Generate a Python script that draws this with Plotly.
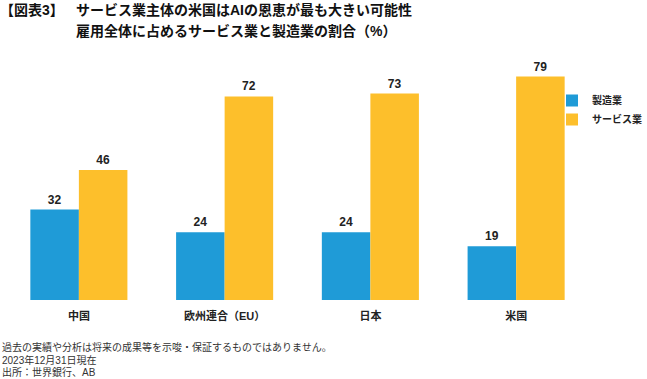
import plotly.graph_objects as go

categories = ["中国", "欧州連合（EU）", "日本", "米国"]
manufacturing = [32, 24, 24, 19]
services = [46, 72, 73, 79]
series_names = ["製造業", "サービス業"]
title_main = "【図表3】"
title_text = "サービス業主体の米国はAIの恩恵が最も大きい可能性"
subtitle_text = "雇用全体に占めるサービス業と製造業の割合（%）"
footnotes = [
    "過去の実績や分析は将来の成果等を示唆・保証するものではありません。",
    "2023年12月31日現在",
    "出所：世界銀行、AB",
]

FONT = "Liberation Sans, Noto Sans CJK JP, sans-serif"
BLUE = "#1f9bd7"
YELLOW = "#fdbf2b"

plot_l, plot_r, plot_t, plot_b = 6, 589, 50, 300
W, H = 647, 379

def px_to_paper(xp, yp):
    return (xp - plot_l) / (plot_r - plot_l), (plot_b - yp) / (plot_b - plot_t)

fig = go.Figure()
for name, vals, col in [(series_names[0], manufacturing, BLUE), (series_names[1], services, YELLOW)]:
    fig.add_trace(go.Bar(
        x=categories, y=vals, name=name,
        marker=dict(color=col, line=dict(width=0)),
        text=[str(v) for v in vals], textposition="outside",
        textfont=dict(family=FONT, size=12, color="#222222", weight="bold"),
        cliponaxis=False,
    ))

lx, ly = px_to_paper(552, 86)
fig.update_layout(
    width=W, height=H,
    margin=dict(l=plot_l, r=W - plot_r, t=plot_t, b=H - plot_b, autoexpand=False),
    paper_bgcolor="white", plot_bgcolor="white",
    barmode="group", bargap=0.334, bargroupgap=0,
    font=dict(family=FONT, color="#222222"),
    showlegend=True,
    legend=dict(x=lx, y=ly, xanchor="left", yanchor="top",
                font=dict(family=FONT, size=10, color="#222222", weight="bold"),
                itemwidth=30, tracegroupgap=0, bgcolor="rgba(0,0,0,0)",
                borderwidth=0),
    xaxis=dict(showgrid=False, showline=False, zeroline=False, ticks="",
               tickfont=dict(family=FONT, size=11, color="#222222", weight="bold"),
               ticklabelstandoff=8),
    yaxis=dict(range=[0, 88.4], visible=False, showgrid=False, zeroline=False),
)

heads = [("<b>" + title_main + "</b>", -2, 10),
         ("<b>" + title_text + "</b>", 74, 10),
         ("<b>" + subtitle_text + "</b>", 74, 31)]
for text, xp, yp in heads:
    xx, yy = px_to_paper(xp, yp)
    fig.add_annotation(text=text, x=xx, y=yy, xref="paper", yref="paper",
                       showarrow=False, xanchor="left", yanchor="middle",
                       font=dict(family=FONT, size=14, color="#111111"))
for line, yp in zip(footnotes, [347, 360, 372]):
    xx, yy = px_to_paper(0, yp)
    fig.add_annotation(text=line, x=xx, y=yy, xref="paper", yref="paper",
                       showarrow=False, xanchor="left", yanchor="middle",
                       font=dict(family=FONT, size=10, color="#333333"))

fig.write_html("out.html")
